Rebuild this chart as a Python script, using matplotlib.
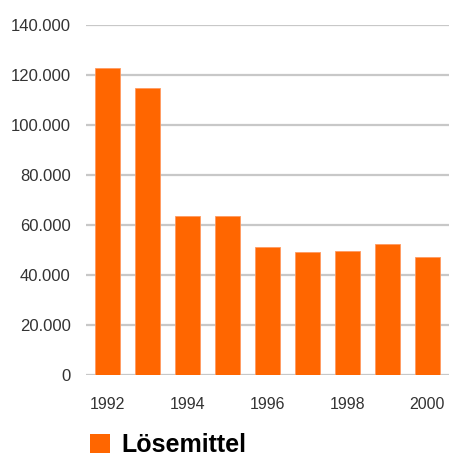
import matplotlib
matplotlib.use("Agg")
import matplotlib.pyplot as plt
from matplotlib.patches import Patch

years = [1992, 1993, 1994, 1995, 1996, 1997, 1998, 1999, 2000]
values = [122700, 114700, 63600, 63600, 51300, 49100, 49700, 52300, 47300]
y_ticks = [0, 20000, 40000, 60000, 80000, 100000, 120000, 140000]
y_tick_labels = ["0", "20.000", "40.000", "60.000", "80.000", "100.000", "120.000", "140.000"]
series_name = "Lösemittel"

plt.rcParams["font.family"] = ["Liberation Sans", "DejaVu Sans"]

fig = plt.figure(figsize=(4.51, 4.57), dpi=100)
# axes box in pixels: x 86..449, y 25..375 (from top)
ax = fig.add_axes([86 / 451, (457 - 375) / 457, (449 - 86) / 451, 350 / 457])

x = list(range(len(years)))
ax.bar(x, values, width=0.625, color="#ff6600", edgecolor="#ff9a60", linewidth=0.6, zorder=3)

ax.set_xlim(-0.54, 8.54)
ax.set_ylim(0, 140000)
ax.set_yticks(y_ticks)
ax.set_yticklabels(y_tick_labels)
ax.grid(axis="y", color="#c8c8c8", linewidth=1.6, zorder=0)

ax.set_xticks(x[::2])
ax.set_xticklabels([str(y) for y in years[::2]])

ax.tick_params(axis="both", length=0, colors="#333333")
ax.tick_params(axis="y", pad=11, labelsize=12)
ax.tick_params(axis="x", pad=16, labelsize=11.5)

for s in ax.spines.values():
    s.set_visible(False)
ax.set_axisbelow(True)

handle = Patch(facecolor="#ff6600", edgecolor="none")
fig.legend([handle], [series_name], loc="center left",
           bbox_to_anchor=(90 / 451, (457 - 445) / 457), frameon=False,
           prop={"size": 18, "weight": "bold"}, handlelength=0.8, handleheight=0.8,
           handletextpad=0.45, borderpad=0, borderaxespad=0)

fig.savefig("out.png", dpi=100)
